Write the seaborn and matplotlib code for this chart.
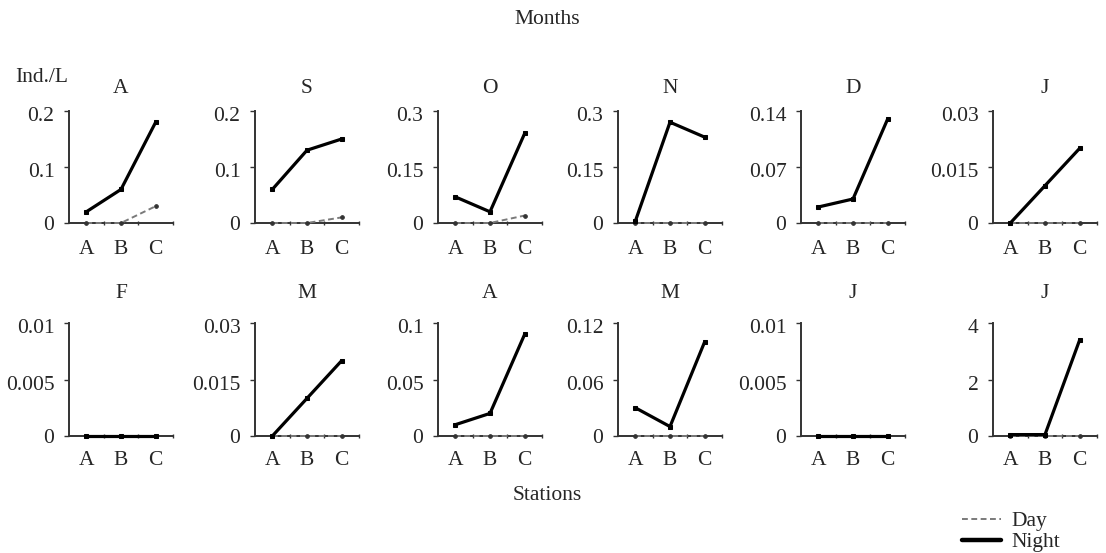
import matplotlib
matplotlib.use("Agg")
import matplotlib.pyplot as plt
from matplotlib.lines import Line2D
from matplotlib.transforms import ScaledTranslation
import numpy as np
import pandas as pd
import seaborn as sns

sns.set_theme(style="white")
plt.rcParams["font.family"] = ["Liberation Serif", "DejaVu Serif"]

# Sampling stations and months (Aug .. Jul)
stations = ["A", "B", "C"]
months = ["A", "S", "O", "N", "D", "J", "F", "M", "A", "M", "J", "J"]

# Abundance (Ind./L) per month, stations A, B, C
night = [
    [0.02, 0.06, 0.18],
    [0.06, 0.13, 0.15],
    [0.07, 0.03, 0.24],
    [0.005, 0.27, 0.23],
    [0.02, 0.03, 0.13],
    [0.0, 0.01, 0.02],
    [0.0, 0.0, 0.0],
    [0.0, 0.01, 0.02],
    [0.01, 0.02, 0.09],
    [0.03, 0.01, 0.10],
    [0.0, 0.0, 0.0],
    [0.05, 0.05, 3.4],
]
day = [
    [0.0, 0.0, 0.03],
    [0.0, 0.0, 0.01],
    [0.0, 0.0, 0.02],
    [0.0, 0.0, 0.0],
    [0.0, 0.0, 0.0],
    [0.0, 0.0, 0.0],
    [0.0, 0.0, 0.0],
    [0.0, 0.0, 0.0],
    [0.0, 0.0, 0.0],
    [0.0, 0.0, 0.0],
    [0.0, 0.0, 0.0],
    [0.0, 0.0, 0.0],
]
y_max = [0.2, 0.2, 0.3, 0.3, 0.14, 0.03, 0.01, 0.03, 0.1, 0.12, 0.01, 4]
y_ticklabels = [
    ["0", "0.1", "0.2"],
    ["0", "0.1", "0.2"],
    ["0", "0.15", "0.3"],
    ["0", "0.15", "0.3"],
    ["0", "0.07", "0.14"],
    ["0", "0.015", "0.03"],
    ["0", "0.005", "0.01"],
    ["0", "0.015", "0.03"],
    ["0", "0.05", "0.1"],
    ["0", "0.06", "0.12"],
    ["0", "0.005", "0.01"],
    ["0", "2", "4"],
]

W, H = 1106, 553
fig = plt.figure(figsize=(W / 100, H / 100), dpi=100)

lefts_px = [69, 255, 438, 618, 801, 993]
rows_px = [(111, 223), (323, 436)]
title_pad = [13, 18]
xlabel_pad = [12.5, 10.5]
ax_w_px = 104
FS = 15.5

spine_col = "#333333"
pos = np.arange(len(stations))

for i, m in enumerate(months):
    r, c = divmod(i, 6)
    top, bot = rows_px[r]
    ax = fig.add_axes([lefts_px[c] / W, 1 - bot / H, ax_w_px / W, (bot - top) / H])

    df = pd.DataFrame({"x": pos, "Day": day[i], "Night": night[i]})
    sns.lineplot(data=df, x="x", y="Day", ax=ax, color="#7a7a7a", lw=1.4,
                 linestyle=(0, (3, 1.8)), marker="o", markersize=2.6,
                 markerfacecolor="#333333", markeredgecolor="#333333",
                 clip_on=False, zorder=3)
    sns.lineplot(data=df, x="x", y="Night", ax=ax, color="black", lw=2.3,
                 marker="s", markersize=3.4, markerfacecolor="black",
                 markeredgecolor="black", clip_on=False, zorder=4)

    ax.set_xlim(-0.5, 2.5)
    ax.set_ylim(0, y_max[i])
    ax.set_yticks(np.linspace(0, y_max[i], 3))
    ax.set_yticklabels(y_ticklabels[i])
    ax.set_xticks(pos)
    ax.set_xticklabels(stations)
    ax.set_xticks([0.5, 1.5, 2.5], minor=True)
    ax.tick_params(axis="x", which="major", length=0, pad=xlabel_pad[r],
                   labelsize=FS)
    ax.tick_params(axis="x", which="minor", length=3, direction="inout",
                   width=1, color=spine_col, bottom=True)
    ax.tick_params(axis="y", length=3.5, width=1, color=spine_col,
                   direction="out", left=True, labelsize=FS, pad=7)
    # nudge the upper y labels slightly below their ticks
    for lab in ax.get_yticklabels()[1:]:
        lab.set_transform(lab.get_transform() +
                          ScaledTranslation(0, -3 / 100, fig.dpi_scale_trans))
    ax.set_xlabel("")
    ax.set_ylabel("")
    for s in ["top", "right"]:
        ax.spines[s].set_visible(False)
    for s in ["left", "bottom"]:
        ax.spines[s].set_color(spine_col)
        ax.spines[s].set_linewidth(1.4)
    ax.set_title(m, fontsize=FS, pad=title_pad[r])

fig.text(547 / W, 1 - 20 / H, "Months", ha="center", va="center", fontsize=FS)
fig.text(547 / W, 1 - 496 / H, "Stations", ha="center", va="center", fontsize=FS)
fig.text(15 / W, 1 - 78 / H, "Ind./L", ha="left", va="center", fontsize=FS)

handles = [
    Line2D([], [], color="#7a7a7a", lw=1.4, linestyle=(0, (3, 1.8))),
    Line2D([], [], color="black", lw=3.2),
]
fig.legend(handles, ["Day", "Night"], loc="upper left",
           bbox_to_anchor=(962 / W, 1 - 511 / H), frameon=False,
           fontsize=FS, handlelength=1.8, handletextpad=0.5, labelspacing=0.05,
           borderaxespad=0, borderpad=0)

fig.savefig("out.png", dpi=100)
